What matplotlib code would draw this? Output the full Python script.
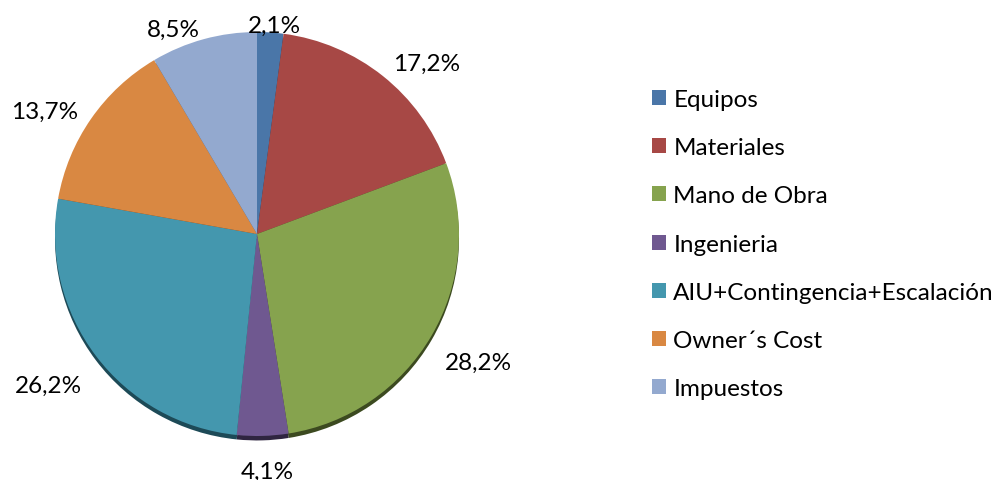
import numpy as np
import matplotlib
matplotlib.use("Agg")
import matplotlib.pyplot as plt
from matplotlib.patches import Patch

categories = ["Equipos", "Materiales", "Mano de Obra", "Ingenieria",
              "AIU+Contingencia+Escalación", "Owner´s Cost", "Impuestos"]
values = [2.1, 17.2, 28.2, 4.1, 26.2, 13.7, 8.5]
labels = ["2,1%", "17,2%", "28,2%", "4,1%", "26,2%", "13,7%", "8,5%"]

colors = ["#4A76A8", "#A74845", "#86A34E", "#6F5890", "#4497AE", "#D98842", "#93A9CF"]
shadow = ["#223a55", "#55221f", "#3c4a20", "#2f2540", "#1d4a57", "#6a3f1c", "#4a5670"]
# label placement: distance (in radii) and angular tweak (deg) relative to wedge middle
label_dist = [1.039, 1.19, 1.266, 1.174, 1.276, 1.213, 1.096]
label_dang = [-1.1, -6.3, 0.2, 0.9, -1.1, 4.8, 6.9]

FONT = "Lato"
FS = 17.5

fig = plt.figure(figsize=(9.97, 4.81), dpi=100)
fig.patch.set_facecolor("white")

W, H = 997, 481
cx, cy, r = 257, 235, 202
ax = fig.add_axes([(cx - r) / W, (H - cy - r) / H, 2 * r / W, 2 * r / H])

# shadow
ax.pie(values, colors=shadow, startangle=90, counterclock=False, radius=1.0,
       center=(0.0, -0.022), wedgeprops=dict(linewidth=0), frame=True)
wedges, _ = ax.pie(values, colors=colors, startangle=90, counterclock=False, radius=1.0,
                   wedgeprops=dict(linewidth=0), frame=True)
ax.set_xlim(-1, 1)
ax.set_ylim(-1, 1)
ax.set_aspect("equal")
ax.axis("off")

total = sum(values)
cum = 0
for v, lab, d, da in zip(values, labels, label_dist, label_dang):
    mid = 90 - (cum + v / 2) / total * 360
    cum += v
    a = np.deg2rad(mid + da)
    ax.text(d * np.cos(a), d * np.sin(a), lab, ha="center", va="center",
            fontsize=FS, family=FONT, color="#000000", clip_on=False)

handles = [Patch(facecolor=c, edgecolor="none") for c in colors]
fig.legend(handles, categories, loc="upper left", bbox_to_anchor=(652 / W, 1 - 90 / H),
           frameon=False, prop=dict(family=FONT, size=FS), handlelength=0.58,
           handleheight=0.58, handletextpad=0.3, labelspacing=1.12, borderaxespad=0,
           borderpad=0)

fig.savefig("out.png", dpi=100, facecolor="white")
